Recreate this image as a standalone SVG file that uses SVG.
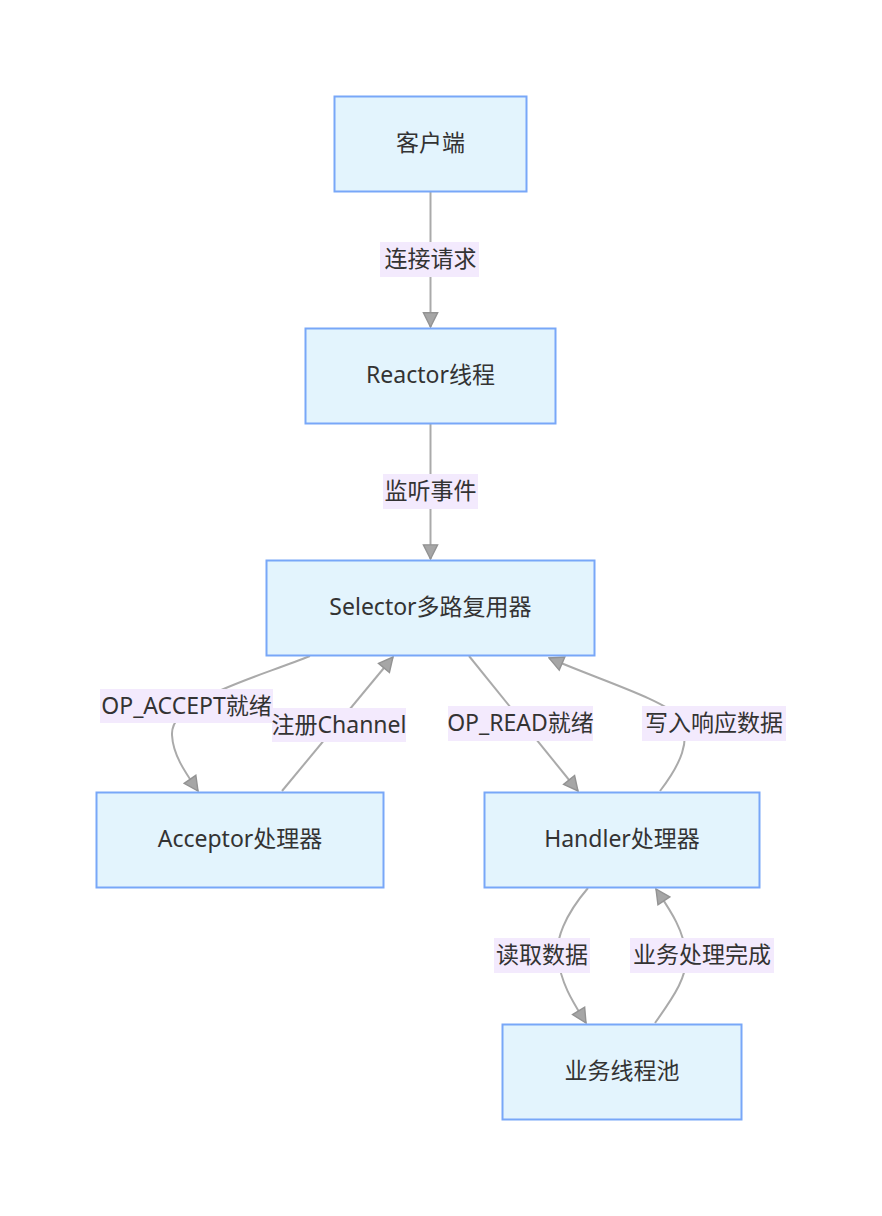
<svg xmlns="http://www.w3.org/2000/svg" width="882" height="1216" viewBox="0 0 882 1216">
<style>
.node rect{fill:#e3f4fd;stroke:#78a7f8;stroke-width:2}
text{font-family:"Noto Sans","Noto Sans CJK SC",sans-serif;font-size:23px;fill:#333;text-anchor:middle;dominant-baseline:central}
.edge{fill:none;stroke:#aaaaaa;stroke-width:2;marker-end:url(#arr)}
.lbl rect{fill:#f3eafd;stroke:none}
</style>
<defs>
<marker id="arr" viewBox="0 0 12 12" refX="11" refY="6" markerWidth="17" markerHeight="17" markerUnits="userSpaceOnUse" orient="auto">
<path d="M1,1 L11,6 L1,11 Z" fill="#a6a6a6" stroke="#939393" stroke-width="1"/>
</marker>
</defs>
<rect width="882" height="1216" fill="#ffffff"/>
<g id="connectors">
<path class="edge" d="M430.5,192 L430.5,327"/>
<path class="edge" d="M430.5,424 L430.5,559"/>
<path class="edge" d="M310,656 C250,680 170,700 172,735 C173,755 185,772 198,791"/>
<path class="edge" d="M282,791 L393,657"/>
<path class="edge" d="M469,656 L578,791"/>
<path class="edge" d="M660,791 C680,765 692,740 680,718 C665,700 600,680 549,658"/>
<path class="edge" d="M588,888 C565,915 555,940 558,958 C561,985 575,1005 586,1023"/>
<path class="edge" d="M655,1023 C675,995 688,975 686,955 C684,930 670,910 656,889"/>
</g>
<g id="edge-labels">
<g class="lbl"><rect x="380" y="242" width="99" height="35"/><text x="430.5" y="258">连接请求</text></g>
<g class="lbl"><rect x="383" y="474" width="95" height="35"/><text x="430.5" y="490">监听事件</text></g>
<g class="lbl"><rect x="100" y="689" width="173" height="34"/><text x="186.5" y="704.5">OP_ACCEPT就绪</text></g>
<g class="lbl"><rect x="272" y="708" width="134" height="34"/><text x="339" y="723.5">注册Channel</text></g>
<g class="lbl"><rect x="448" y="706" width="145" height="35"/><text x="520.5" y="722">OP_READ就绪</text></g>
<g class="lbl"><rect x="642" y="706" width="144" height="35"/><text x="714" y="722">写入响应数据</text></g>
<g class="lbl"><rect x="494" y="938" width="96" height="35"/><text x="542" y="954">读取数据</text></g>
<g class="lbl"><rect x="630" y="938" width="144" height="35"/><text x="702" y="954">业务处理完成</text></g>
</g>
<g id="client" class="node"><rect x="334.5" y="96.5" width="192" height="95"/><text x="430.5" y="142">客户端</text></g>
<g id="reactor" class="node"><rect x="305.5" y="328.5" width="250" height="95"/><text x="430.5" y="374">Reactor线程</text></g>
<g id="selector" class="node"><rect x="266.5" y="560.5" width="328" height="95"/><text x="430.5" y="606">Selector多路复用器</text></g>
<g id="acceptor" class="node"><rect x="96.5" y="792.5" width="287" height="95"/><text x="240" y="838">Acceptor处理器</text></g>
<g id="handler" class="node"><rect x="484.5" y="792.5" width="275" height="95"/><text x="622" y="838">Handler处理器</text></g>
<g id="pool" class="node"><rect x="502.5" y="1024.5" width="239" height="95"/><text x="622" y="1070">业务线程池</text></g>
</svg>
